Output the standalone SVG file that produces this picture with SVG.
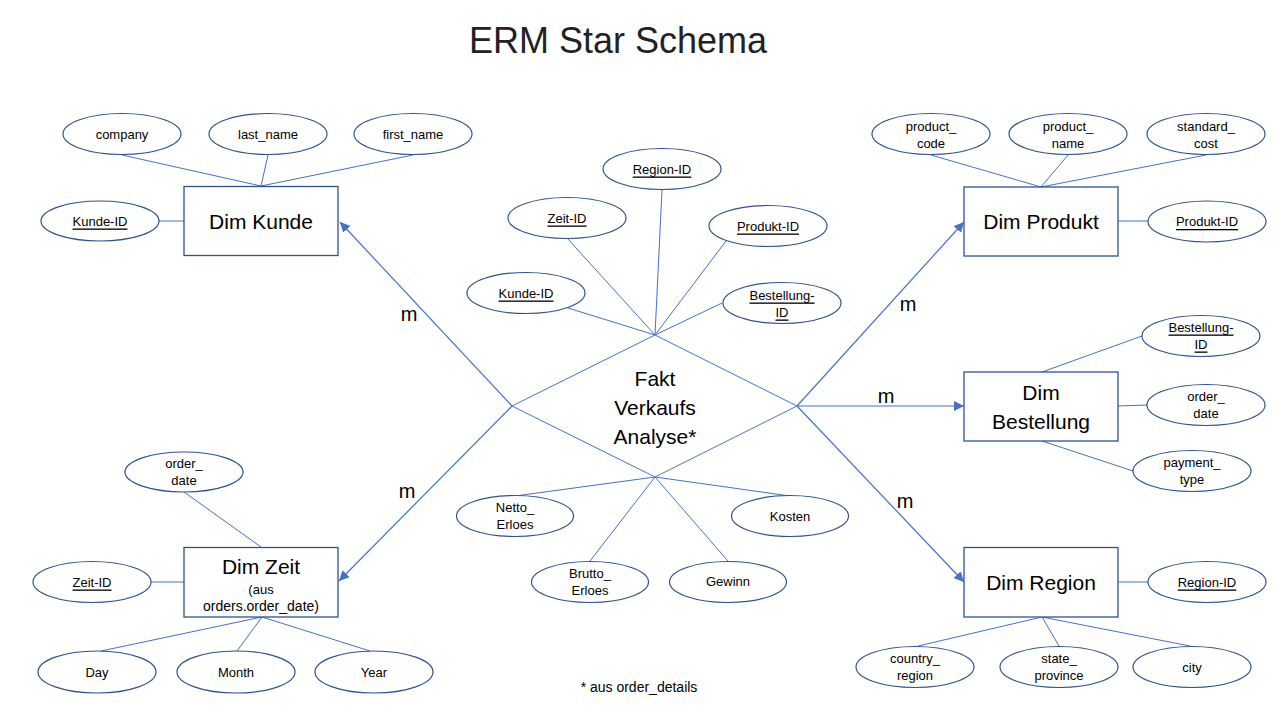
<svg xmlns="http://www.w3.org/2000/svg" width="1280" height="720" viewBox="0 0 1280 720">
<defs>
<marker id="arr" markerUnits="userSpaceOnUse" viewBox="0 0 10 10" refX="10" refY="5" markerWidth="10" markerHeight="10" orient="auto">
<path d="M0,0 L10,5 L0,10 z" fill="#4472C4"/>
</marker>
<style>
text{font-family:"Liberation Sans",Arial,sans-serif;fill:#000;text-anchor:middle;dominant-baseline:central}
.t{font-size:36px;fill:#222}
.big{font-size:21px}
.m{font-size:20px}
.s{font-size:13px}
.xs{font-size:14px}
.u{text-decoration:underline}
ellipse{fill:#fff;stroke:#2F528F;stroke-width:1.2}
rect{fill:#fff;stroke:#2F528F;stroke-width:1.3}
.ln{stroke:#4472C4;stroke-width:1;fill:none}
.ar{stroke:#4472C4;stroke-width:1.2;fill:none;marker-end:url(#arr)}
</style>
</defs>
<rect x="0" y="0" width="1280" height="720" style="fill:#fff;stroke:none"/>
<text class="t" x="618" y="40">ERM Star Schema</text>

<g id="connectors">
<!-- Dim Kunde attributes -->
<line class="ln" x1="159" y1="221" x2="184" y2="221"/>
<line class="ln" x1="122" y1="155" x2="261" y2="186"/>
<line class="ln" x1="268" y1="155" x2="261" y2="186"/>
<line class="ln" x1="413" y1="155" x2="261" y2="186"/>
<!-- Dim Produkt attributes -->
<line class="ln" x1="1118" y1="221" x2="1148" y2="221"/>
<line class="ln" x1="931" y1="155" x2="1041" y2="187"/>
<line class="ln" x1="1068" y1="155" x2="1041" y2="187"/>
<line class="ln" x1="1206" y1="155" x2="1041" y2="187"/>
<!-- Dim Zeit attributes -->
<line class="ln" x1="151" y1="582" x2="184" y2="582"/>
<line class="ln" x1="184" y1="492" x2="261" y2="547"/>
<line class="ln" x1="262" y1="617" x2="101" y2="651"/>
<line class="ln" x1="262" y1="617" x2="237" y2="651"/>
<line class="ln" x1="262" y1="617" x2="370" y2="651"/>
<!-- Dim Bestellung attributes -->
<line class="ln" x1="1142" y1="336" x2="1042" y2="372"/>
<line class="ln" x1="1118" y1="406" x2="1147" y2="405"/>
<line class="ln" x1="1042" y1="441" x2="1133" y2="471"/>
<!-- Dim Region attributes -->
<line class="ln" x1="1118" y1="582" x2="1148" y2="582"/>
<line class="ln" x1="1042" y1="617" x2="918" y2="646"/>
<line class="ln" x1="1042" y1="617" x2="1059" y2="646"/>
<line class="ln" x1="1042" y1="617" x2="1190" y2="646"/>
<!-- Fact attributes top -->
<line class="ln" x1="662" y1="190" x2="655" y2="335"/>
<line class="ln" x1="567" y1="238" x2="655" y2="335"/>
<line class="ln" x1="726" y1="241" x2="655" y2="335"/>
<line class="ln" x1="568" y1="308" x2="655" y2="335"/>
<line class="ln" x1="722" y1="303" x2="655" y2="335"/>
<!-- Fact attributes bottom -->
<line class="ln" x1="655" y1="477" x2="515" y2="496"/>
<line class="ln" x1="655" y1="477" x2="790" y2="496"/>
<line class="ln" x1="655" y1="477" x2="590" y2="561"/>
<line class="ln" x1="655" y1="477" x2="728" y2="561"/>
<!-- Relationships -->
<line class="ar" x1="512" y1="406" x2="340" y2="222"/>
<line class="ar" x1="512" y1="406" x2="339" y2="581"/>
<line class="ar" x1="797" y1="406" x2="964" y2="222"/>
<line class="ar" x1="797" y1="406" x2="964" y2="406"/>
<line class="ar" x1="797" y1="406" x2="964" y2="582"/>
<text class="m" x="409" y="314">m</text>
<text class="m" x="407" y="491">m</text>
<text class="m" x="908" y="304">m</text>
<text class="m" x="886" y="396">m</text>
<text class="m" x="905" y="501">m</text>
</g>

<g id="fakt">
<polygon points="655,335 797,406 655,477 512,406" fill="#fff" stroke="#4472C4" stroke-width="1"/>
<text class="big" x="655" y="378">Fakt</text>
<text class="big" x="655" y="407">Verkaufs</text>
<text class="big" x="655" y="436">Analyse*</text>
</g>

<g id="f-region-id"><ellipse cx="662" cy="169" rx="59" ry="20.5"/><text class="s u" x="662" y="169">Region-ID</text></g>
<g id="f-zeit-id"><ellipse cx="567" cy="218" rx="59" ry="20.5"/><text class="s u" x="567" y="218">Zeit-ID</text></g>
<g id="f-produkt-id"><ellipse cx="768" cy="226" rx="59" ry="20.5"/><text class="s u" x="768" y="226">Produkt-ID</text></g>
<g id="f-kunde-id"><ellipse cx="526" cy="293" rx="59" ry="20.5"/><text class="s u" x="526" y="293">Kunde-ID</text></g>
<g id="f-bestellung-id"><ellipse cx="782" cy="303" rx="59" ry="20.5"/><text class="s u" x="782" y="295">Bestellung-</text><text class="s u" x="782" y="312">ID</text></g>
<g id="f-netto"><ellipse cx="515" cy="516" rx="58.5" ry="20.5"/><text class="s" x="515" y="507">Netto_</text><text class="s" x="515" y="524">Erloes</text></g>
<g id="f-kosten"><ellipse cx="790" cy="516" rx="58.5" ry="20.5"/><text class="s" x="790" y="516">Kosten</text></g>
<g id="f-brutto"><ellipse cx="590" cy="582" rx="58.5" ry="20.5"/><text class="s" x="590" y="573">Brutto_</text><text class="s" x="590" y="590">Erloes</text></g>
<g id="f-gewinn"><ellipse cx="728" cy="582" rx="58.5" ry="20.5"/><text class="s" x="728" y="581">Gewinn</text></g>

<g id="dim-kunde">
<rect x="184" y="186.5" width="154" height="69"/>
<text class="big" x="261" y="221">Dim Kunde</text>
</g>
<g id="k-kunde-id"><ellipse cx="100" cy="221" rx="59" ry="20"/><text class="s u" x="100" y="221">Kunde-ID</text></g>
<g id="k-company"><ellipse cx="122" cy="134" rx="59" ry="20.5"/><text class="s" x="122" y="134">company</text></g>
<g id="k-last-name"><ellipse cx="268" cy="134" rx="59" ry="20.5"/><text class="s" x="268" y="134">last_name</text></g>
<g id="k-first-name"><ellipse cx="413" cy="134" rx="59" ry="20.5"/><text class="s" x="413" y="134">first_name</text></g>

<g id="dim-produkt">
<rect x="964" y="187" width="154" height="69"/>
<text class="big" x="1041" y="221">Dim Produkt</text>
</g>
<g id="p-produkt-id"><ellipse cx="1207" cy="221.5" rx="59" ry="20.5"/><text class="s u" x="1207" y="221.5">Produkt-ID</text></g>
<g id="p-code"><ellipse cx="931" cy="134" rx="59" ry="20.5"/><text class="s" x="931" y="126">product_</text><text class="s" x="931" y="143">code</text></g>
<g id="p-name"><ellipse cx="1068" cy="134" rx="59" ry="20.5"/><text class="s" x="1068" y="126">product_</text><text class="s" x="1068" y="143">name</text></g>
<g id="p-cost"><ellipse cx="1206" cy="134" rx="59" ry="20.5"/><text class="s" x="1206" y="126">standard_</text><text class="s" x="1206" y="143">cost</text></g>

<g id="dim-bestellung">
<rect x="964" y="372" width="154" height="69"/>
<text class="big" x="1041" y="392">Dim</text>
<text class="big" x="1041" y="421">Bestellung</text>
</g>
<g id="b-bestellung-id"><ellipse cx="1201" cy="336" rx="59" ry="20.5"/><text class="s u" x="1201" y="327">Bestellung-</text><text class="s u" x="1201" y="344">ID</text></g>
<g id="b-order-date"><ellipse cx="1206" cy="405" rx="59" ry="20.5"/><text class="s" x="1206" y="396">order_</text><text class="s" x="1206" y="413">date</text></g>
<g id="b-payment"><ellipse cx="1192" cy="471" rx="59" ry="20.5"/><text class="s" x="1192" y="462">payment_</text><text class="s" x="1192" y="479">type</text></g>

<g id="dim-region">
<rect x="964" y="547.5" width="154" height="69.5"/>
<text class="big" x="1041" y="582">Dim Region</text>
</g>
<g id="r-region-id"><ellipse cx="1207" cy="582" rx="59" ry="20.5"/><text class="s u" x="1207" y="582">Region-ID</text></g>
<g id="r-country"><ellipse cx="915" cy="667" rx="59" ry="20.5"/><text class="s" x="915" y="658">country_</text><text class="s" x="915" y="675">region</text></g>
<g id="r-state"><ellipse cx="1059" cy="667" rx="59" ry="20.5"/><text class="s" x="1059" y="658">state_</text><text class="s" x="1059" y="675">province</text></g>
<g id="r-city"><ellipse cx="1192" cy="667" rx="59" ry="20.5"/><text class="s" x="1192" y="667">city</text></g>

<g id="dim-zeit">
<rect x="184" y="547.5" width="154" height="69.5"/>
<text class="big" x="261" y="566">Dim Zeit</text>
<text class="s" x="261" y="589">(aus</text>
<text class="xs" x="261" y="606">orders.order_date)</text>
</g>
<g id="z-zeit-id"><ellipse cx="92" cy="582" rx="59" ry="20.5"/><text class="s u" x="92" y="582">Zeit-ID</text></g>
<g id="z-order-date"><ellipse cx="184" cy="472" rx="59" ry="20"/><text class="s" x="184" y="463">order_</text><text class="s" x="184" y="480">date</text></g>
<g id="z-day"><ellipse cx="97" cy="672" rx="59" ry="21"/><text class="s" x="97" y="672">Day</text></g>
<g id="z-month"><ellipse cx="236" cy="672" rx="59" ry="21"/><text class="s" x="236" y="672">Month</text></g>
<g id="z-year"><ellipse cx="374" cy="672" rx="59" ry="21"/><text class="s" x="374" y="672">Year</text></g>

<text class="xs" x="639" y="687">* aus order_details</text>
</svg>
